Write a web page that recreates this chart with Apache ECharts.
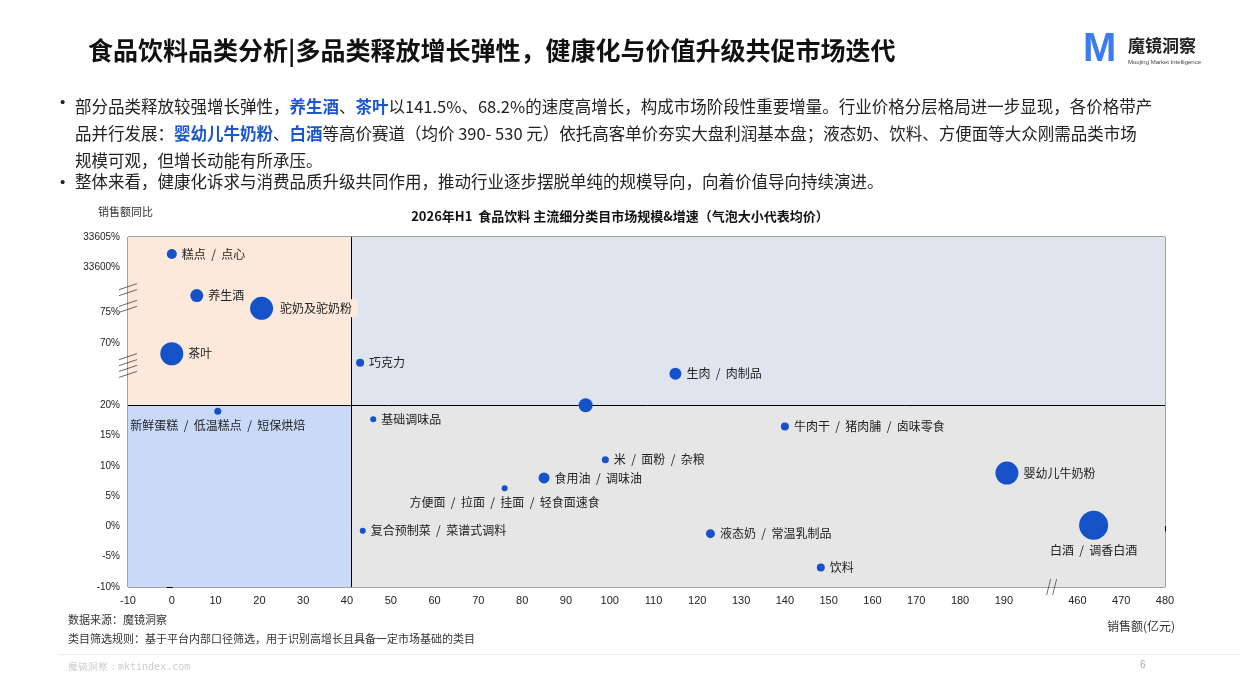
<!DOCTYPE html>
<html><head><meta charset="utf-8">
<script src="https://cdn.jsdelivr.net/npm/echarts@6/dist/echarts.min.js"></script>
<style>html,body{margin:0;padding:0;background:#fff}#c{width:1240px;height:697px}</style>
</head><body><div id="c"></div>
<script>
const names = ['糕点  /  点心','养生酒','驼奶及驼奶粉','茶叶','巧克力','生肉  /  肉制品','','新鲜蛋糕  /  低温糕点  /  短保烘焙','基础调味品','牛肉干  /  猪肉脯  /  卤味零食','米  /  面粉  /  杂粮','食用油  /  调味油','方便面  /  拉面  /  挂面  /  轻食面速食','婴幼儿牛奶粉','复合预制菜  /  菜谱式调料','液态奶  /  常温乳制品','饮料','白酒  /  调香白酒'];
const sales  = [0, 5.7, 20.5, 0, 43, 115, 94.5, 10.5, 46, 140, 99, 85, 76, 190.7, 43.6, 123, 148.2, 463.7];
const growth = [33602.2, 141.5, 75.7, 68.2, 35, 33.2, 20, 19, 17.7, 16.5, 11, 8, 6.3, 8.8, -0.7, -1.2, -6.8, 0.2];
const bubble = [10, 13, 23, 23, 8, 12, 14, 7, 6, 8, 7, 11, 6, 23, 6, 9, 8, 29];
const xTicks = [-10,0,10,20,30,40,50,60,70,80,90,100,110,120,130,140,150,160,170,180,190,460,470,480];
const yTicks = [-10,-5,0,5,10,15,20,70,75,33600,33605];
const xDivide = 41, yDivide = 20;

const labelPos = {7:{position:'bottom'},12:{position:'bottom'},17:{position:'bottom'}};
const pts = names.map((n,i)=>{
  const d = {name:n, value:[sales[i], growth[i]], symbolSize:bubble[i]};
  if (labelPos[i]) d.label = labelPos[i];
  if (i===2) d.label = {backgroundColor:'#FDE9DB', padding:[3,6,3,2]};
  return d;
});
const slashPath = 'path://M0,6 L20,0 M0,12 L20,6';
const chart = echarts.init(document.getElementById('c'));
const blue = '#1a56d0';
chart.setOption({
  animation:false,
  textStyle:{fontFamily:'"Noto Sans CJK SC","Noto Sans",sans-serif'},
  grid:{left:128, right:75, top:237, bottom:110, show:true, borderColor:'#444', borderWidth:1, containLabel:false, outerBoundsMode:'none'},
  xAxis:{type:'value', min:-10, max:480,
    breaks:[{start:200, end:457, gap:3.8}],
    breakArea:{show:false},
    axisLine:{show:true, lineStyle:{color:'#000'}}, axisTick:{show:true, customValues:xTicks, lineStyle:{color:'#000'}},
    axisLabel:{customValues:xTicks, color:'#222', fontSize:11, fontFamily:'Liberation Sans'},
    splitLine:{show:false}},
  yAxis:{type:'value', min:-10, max:33605,
    breaks:[{start:22,end:33,gap:3},{start:35.5,end:67.5,gap:0.3},{start:76,end:140.5,gap:0.8},{start:142.5,end:33599,gap:2.67}],
    breakArea:{show:false},
    axisLine:{show:true, lineStyle:{color:'#000'}}, axisTick:{show:true, customValues:yTicks, lineStyle:{color:'#000'}},
    axisLabel:{customValues:yTicks, color:'#222', fontSize:10, fontFamily:'Liberation Sans', formatter:v=>v+'%'},
    splitLine:{show:false}},
  title:{text:'2026年H1  食品饮料 主流细分类目市场规模&增速（气泡大小代表均价）', left:'center', top:205,
    textStyle:{fontSize:13, fontWeight:'bold', color:'#111'}},
  series:[
    {type:'scatter', data:pts, symbol:'circle', z:5,
     itemStyle:{color:'#1552C8', opacity:1},
     label:{show:true, position:'right', formatter:'{b}', color:'#222', fontSize:12},
     markArea:{silent:true, data:[
       [{coord:[-10,yDivide], itemStyle:{color:'#FDE9DB'}},{coord:[xDivide,33605]}],
       [{coord:[xDivide,yDivide], itemStyle:{color:'#DFE4EE'}},{coord:[480,33605]}],
       [{coord:[-10,-10], itemStyle:{color:'#C9DAF8'}},{coord:[xDivide,yDivide]}],
       [{coord:[xDivide,-10], itemStyle:{color:'#E6E6E6'}},{coord:[480,yDivide]}]
     ]},
     markLine:{silent:true, symbol:'none', label:{show:false}, lineStyle:{color:'#000', type:'solid', width:1},
       data:[{xAxis:xDivide},{yAxis:yDivide}]}
    },
    {type:'scatter', silent:true, z:10, symbol:slashPath, symbolSize:[18,12], clip:false,
     itemStyle:{color:'#fff', borderColor:'#333', borderWidth:1},
     data:[[-10,33.6],[-10,37.1],[-10,76.5],[-10,142.8]]},
    {type:'scatter', silent:true, z:10, symbol:'path://M4,0 L0,20 M10,0 L6,20', symbolSize:[10,16], clip:false,
     itemStyle:{color:'#fff', borderColor:'#333', borderWidth:1}, symbolOffset:[4,0],
     data:[[200,-10]]}
  ],
  graphic:[
    {type:'text', left:88, top:38, style:{text:'食品饮料品类分析|多品类释放增长弹性，健康化与价值升级共促市场迭代', font:'bold 25px "Noto Sans CJK SC"', fill:'#111'}},
    {type:'text', left:1083, top:30, style:{text:'M', font:'bold 40px "Liberation Sans"', fill:'#3d7bf0'}},
    {type:'text', left:1128, top:37, style:{text:'魔镜洞察', font:'bold 17px "Noto Sans CJK SC"', fill:'#222'}},
    {type:'text', left:1128, top:59, style:{text:'Moojing Market Intelligence', font:'6px "Liberation Sans"', fill:'#444'}},
    {type:'text', left:60, top:95, style:{text:'•', font:'15px sans-serif', fill:'#222'}},
    {type:'text', left:60, top:175, style:{text:'•', font:'15px sans-serif', fill:'#222'}},
    {type:'text', left:75, top:93, style:{
      text:'部分品类释放较强增长弹性，{b|养生酒}、{b|茶叶}以141.5%、68.2%的速度高增长，构成市场阶段性重要增量。行业价格分层格局进一步显现，各价格带产\n品并行发展：{b|婴幼儿牛奶粉}、{b|白酒}等高价赛道（均价 390- 530 元）依托高客单价夯实大盘利润基本盘；液态奶、饮料、方便面等大众刚需品类市场\n规模可观，但增长动能有所承压。',
      font:'16.5px "Noto Sans CJK SC"', fill:'#222', lineHeight:27,
      rich:{b:{fontWeight:'bold', fill:blue, fontSize:16.5, lineHeight:27, fontFamily:'Noto Sans CJK SC'}}}},
    {type:'text', left:75, top:173, style:{text:'整体来看，健康化诉求与消费品质升级共同作用，推动行业逐步摆脱单纯的规模导向，向着价值导向持续演进。', font:'16.5px "Noto Sans CJK SC"', fill:'#222'}},
    {type:'text', left:98, top:206, style:{text:'销售额同比', font:'11px "Noto Sans CJK SC"', fill:'#333'}},
    {type:'text', left:1107, top:620, style:{text:'销售额(亿元)', font:'12px "Noto Sans CJK SC"', fill:'#333'}},
    {type:'text', left:68, top:614, style:{text:'数据来源：魔镜洞察', font:'11px "Noto Sans CJK SC"', fill:'#333'}},
    {type:'text', left:68, top:633, style:{text:'类目筛选规则：基于平台内部口径筛选，用于识别高增长且具备一定市场基础的类目', font:'11px "Noto Sans CJK SC"', fill:'#333'}},
    {type:'rect', shape:{x:58, y:654, width:1182, height:1}, style:{fill:'#eee'}},
    {type:'text', left:68, top:662, style:{text:'魔镜洞察：mktindex.com', font:'10px "DejaVu Sans Mono"', fill:'#ccc'}},
    {type:'text', left:1140, top:660, style:{text:'6', font:'10px sans-serif', fill:'#aaa'}}
  ]
});
</script></body></html>
